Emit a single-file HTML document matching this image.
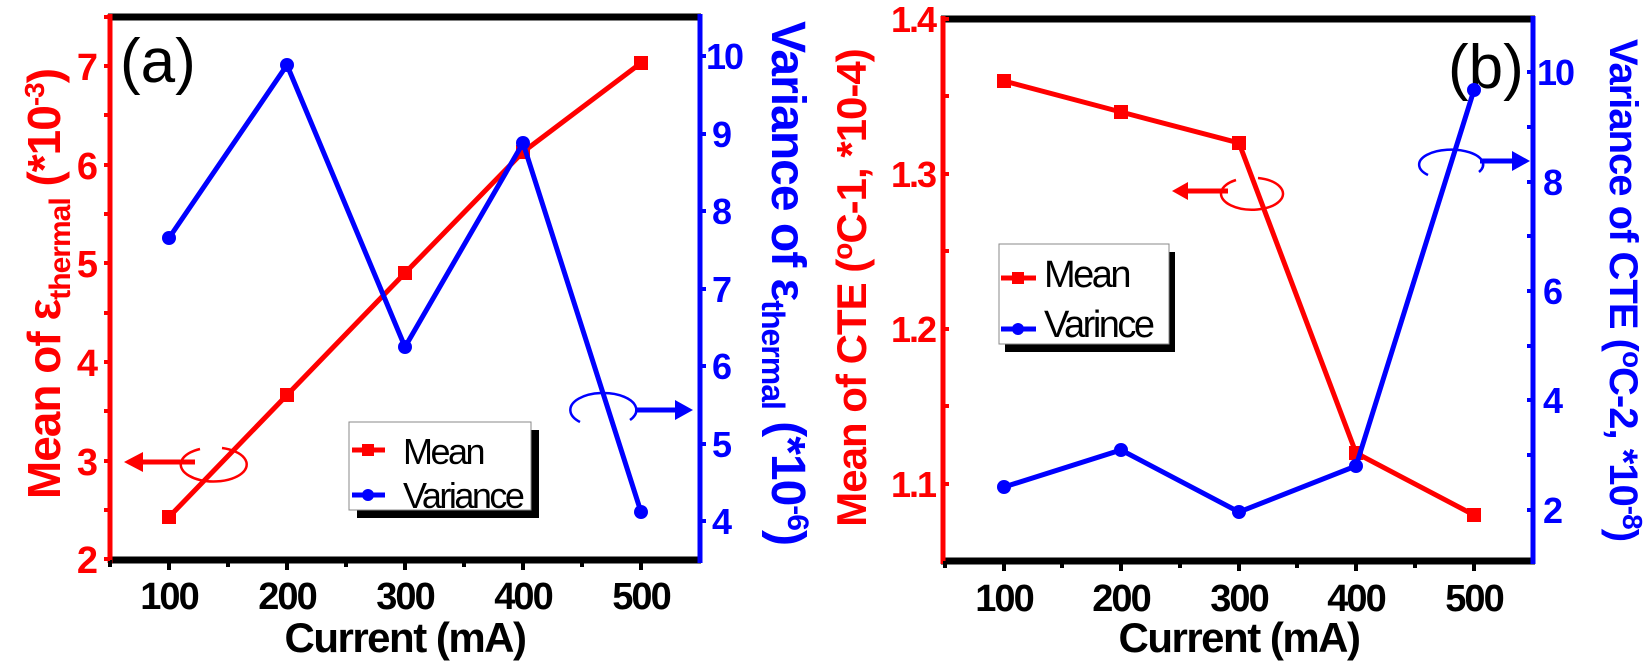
<!DOCTYPE html>
<html><head><meta charset="utf-8"><style>
html,body{margin:0;padding:0;background:#fff;}
svg{display:block;font-family:"Liberation Sans",Arial,sans-serif;}
</style></head><body>
<svg width="1650" height="666" viewBox="0 0 1650 666" xmlns="http://www.w3.org/2000/svg">
<!-- ===== Panel A ===== -->
<g>
<line x1="108" y1="17" x2="701" y2="17" stroke="#000" stroke-width="7"/>
<line x1="108" y1="560" x2="701" y2="560" stroke="#000" stroke-width="7"/>
<line x1="110" y1="14" x2="110" y2="563" stroke="#f00" stroke-width="5"/>
<line x1="700" y1="14" x2="700" y2="563" stroke="#00f" stroke-width="5"/>
<g stroke="#000" stroke-width="4">
<line x1="110" y1="560" x2="110" y2="567"/><line x1="169" y1="560" x2="169" y2="570"/>
<line x1="228" y1="560" x2="228" y2="567"/><line x1="287" y1="560" x2="287" y2="570"/>
<line x1="346" y1="560" x2="346" y2="567"/><line x1="405" y1="560" x2="405" y2="570"/>
<line x1="464" y1="560" x2="464" y2="567"/><line x1="523" y1="560" x2="523" y2="570"/>
<line x1="582" y1="560" x2="582" y2="567"/><line x1="641" y1="560" x2="641" y2="570"/>
</g>
<g font-size="38" font-weight="bold" text-anchor="middle" fill="#000" letter-spacing="-2">
<text x="169" y="609">100</text><text x="287" y="609">200</text><text x="405" y="609">300</text><text x="523" y="609">400</text><text x="641" y="609">500</text>
</g>
<text x="405" y="652" font-size="42" font-weight="bold" text-anchor="middle" letter-spacing="-1.5">Current (mA)</text>
<g stroke="#f00" stroke-width="4">
<line x1="104" y1="559" x2="110" y2="559"/><line x1="104" y1="510" x2="110" y2="510"/>
<line x1="104" y1="461" x2="110" y2="461"/><line x1="104" y1="411" x2="110" y2="411"/>
<line x1="104" y1="362" x2="110" y2="362"/><line x1="104" y1="313" x2="110" y2="313"/>
<line x1="104" y1="263" x2="110" y2="263"/><line x1="104" y1="214" x2="110" y2="214"/>
<line x1="104" y1="165" x2="110" y2="165"/><line x1="104" y1="115" x2="110" y2="115"/>
<line x1="104" y1="66" x2="110" y2="66"/><line x1="104" y1="17" x2="110" y2="17"/>
</g>
<g font-size="38" font-weight="bold" text-anchor="end" fill="#f00">
<text x="98" y="573">2</text><text x="98" y="475">3</text><text x="98" y="376">4</text><text x="98" y="277">5</text><text x="98" y="179">6</text><text x="98" y="80">7</text>
</g>
<g stroke="#00f" stroke-width="4">
<line x1="700" y1="521" x2="706" y2="521"/><line x1="700" y1="444" x2="706" y2="444"/>
<line x1="700" y1="366" x2="706" y2="366"/><line x1="700" y1="289" x2="706" y2="289"/>
<line x1="700" y1="211" x2="706" y2="211"/><line x1="700" y1="134" x2="706" y2="134"/>
<line x1="700" y1="56" x2="706" y2="56"/>
</g>
<g font-size="36" font-weight="bold" text-anchor="start" fill="#00f" letter-spacing="-2">
<text x="712" y="534">4</text><text x="712" y="457">5</text><text x="712" y="379">6</text><text x="712" y="302">7</text><text x="712" y="224">8</text><text x="712" y="147">9</text><text x="706" y="69">10</text>
</g>
<text transform="translate(60,284) rotate(-90)" font-size="46" font-weight="bold" fill="#f00" text-anchor="middle" letter-spacing="-1">Mean of ε<tspan font-size="30" dy="10">thermal</tspan><tspan dy="-10"> (*10</tspan><tspan font-size="28" dy="-16">-3</tspan><tspan dy="16">)</tspan></text>
<text transform="translate(772,283) rotate(90)" font-size="48" font-weight="bold" fill="#00f" text-anchor="middle" letter-spacing="-1">Variance of ε<tspan font-size="32" dy="10">thermal</tspan><tspan dy="-10"> (*10</tspan><tspan font-size="30" dy="-16">-6</tspan><tspan dy="16">)</tspan></text>
<text x="120" y="82" font-size="62">(a)</text>
<polyline fill="none" stroke="#f00" stroke-width="5" points="169,517 287,395 405,273 523,152 641,63"/>
<g fill="#f00"><rect x="162" y="510" width="14" height="14"/><rect x="280" y="388" width="14" height="14"/><rect x="398" y="266" width="14" height="14"/><rect x="516" y="145" width="14" height="14"/><rect x="634" y="56" width="14" height="14"/></g>
<polyline fill="none" stroke="#00f" stroke-width="5" points="169,238 287,65 405,347 523,143 641,512"/>
<g fill="#00f"><circle cx="169" cy="238" r="7"/><circle cx="287" cy="65" r="7"/><circle cx="405" cy="347" r="7"/><circle cx="523" cy="143" r="7"/><circle cx="641" cy="512" r="7"/></g>
<line x1="140" y1="462" x2="195" y2="462" stroke="#f00" stroke-width="5"/>
<polygon points="124,462 143,452 143,472" fill="#f00"/>
<path d="M200,449 A33,17 0 1 0 222,448" fill="none" stroke="#f00" stroke-width="2.5"/>
<line x1="635" y1="410" x2="678" y2="410" stroke="#00f" stroke-width="5"/>
<polygon points="693,410 675,400 675,420" fill="#00f"/>
<path d="M580,422 A33,17 0 1 1 630,420" fill="none" stroke="#00f" stroke-width="2.5"/>
<rect x="357" y="430" width="182" height="88" fill="#000"/>
<rect x="349" y="422" width="182" height="88" fill="#fff" stroke="#888" stroke-width="1"/>
<line x1="352" y1="450" x2="385" y2="450" stroke="#f00" stroke-width="5"/><rect x="362" y="444" width="12" height="12" fill="#f00"/>
<line x1="352" y1="495" x2="385" y2="495" stroke="#00f" stroke-width="5"/><circle cx="368" cy="495" r="6" fill="#00f"/>
<text x="403" y="464" font-size="36" letter-spacing="-2.5">Mean</text>
<text x="403" y="508" font-size="36" letter-spacing="-2.5">Variance</text>
</g>

<!-- ===== Panel B ===== -->
<g>
<line x1="941" y1="19" x2="1535" y2="19" stroke="#000" stroke-width="7"/>
<line x1="941" y1="561" x2="1535" y2="561" stroke="#000" stroke-width="7"/>
<line x1="943" y1="16" x2="943" y2="564" stroke="#f00" stroke-width="5"/>
<line x1="1533" y1="16" x2="1533" y2="564" stroke="#00f" stroke-width="5"/>
<g stroke="#000" stroke-width="4">
<line x1="945" y1="561" x2="945" y2="568"/><line x1="1004" y1="561" x2="1004" y2="571"/>
<line x1="1062" y1="561" x2="1062" y2="568"/><line x1="1121" y1="561" x2="1121" y2="571"/>
<line x1="1180" y1="561" x2="1180" y2="568"/><line x1="1239" y1="561" x2="1239" y2="571"/>
<line x1="1297" y1="561" x2="1297" y2="568"/><line x1="1356" y1="561" x2="1356" y2="571"/>
<line x1="1415" y1="561" x2="1415" y2="568"/><line x1="1474" y1="561" x2="1474" y2="571"/>
</g>
<g font-size="38" font-weight="bold" text-anchor="middle" letter-spacing="-2">
<text x="1004" y="611">100</text><text x="1121" y="611">200</text><text x="1239" y="611">300</text><text x="1356" y="611">400</text><text x="1474" y="611">500</text>
</g>
<text x="1239" y="652" font-size="42" font-weight="bold" text-anchor="middle" letter-spacing="-1.5">Current (mA)</text>
<g stroke="#f00" stroke-width="4">
<line x1="943" y1="19" x2="949" y2="19"/><line x1="943" y1="96" x2="949" y2="96"/>
<line x1="943" y1="174" x2="949" y2="174"/><line x1="943" y1="251" x2="949" y2="251"/>
<line x1="943" y1="329" x2="949" y2="329"/><line x1="943" y1="406" x2="949" y2="406"/>
<line x1="943" y1="484" x2="949" y2="484"/>
</g>
<g font-size="36" font-weight="bold" text-anchor="end" fill="#f00" letter-spacing="-2">
<text x="935" y="32">1.4</text><text x="935" y="187">1.3</text><text x="935" y="342">1.2</text><text x="935" y="497">1.1</text>
</g>
<g stroke="#00f" stroke-width="4">
<line x1="1527" y1="510" x2="1533" y2="510"/><line x1="1527" y1="455" x2="1533" y2="455"/>
<line x1="1527" y1="400" x2="1533" y2="400"/><line x1="1527" y1="346" x2="1533" y2="346"/>
<line x1="1527" y1="291" x2="1533" y2="291"/><line x1="1527" y1="236" x2="1533" y2="236"/>
<line x1="1527" y1="182" x2="1533" y2="182"/><line x1="1527" y1="127" x2="1533" y2="127"/>
<line x1="1527" y1="72" x2="1533" y2="72"/>
</g>
<g font-size="36" font-weight="bold" text-anchor="start" fill="#00f" letter-spacing="-2">
<text x="1543" y="523">2</text><text x="1543" y="413">4</text><text x="1543" y="304">6</text><text x="1543" y="195">8</text><text x="1537" y="85">10</text>
</g>
<text transform="translate(866,288) rotate(-90)" font-size="42" font-weight="bold" fill="#f00" text-anchor="middle" letter-spacing="-1">Mean of CTE (<tspan font-size="28" dy="-14">o</tspan><tspan dy="14">C-1, *10-4)</tspan></text>
<text transform="translate(1610,290) rotate(90)" font-size="40" font-weight="bold" fill="#00f" text-anchor="middle" letter-spacing="-1">Variance of CTE (<tspan font-size="28" dy="-13">o</tspan><tspan dy="13">C-2, *10</tspan><tspan font-size="28" dy="-13">-8</tspan><tspan dy="13">)</tspan></text>
<text x="1448" y="88" font-size="62">(b)</text>
<polyline fill="none" stroke="#f00" stroke-width="5" points="1004,81 1121,112 1239,143 1356,453 1474,515"/>
<g fill="#f00"><rect x="997" y="74" width="14" height="14"/><rect x="1114" y="105" width="14" height="14"/><rect x="1232" y="136" width="14" height="14"/><rect x="1349" y="446" width="14" height="14"/><rect x="1467" y="508" width="14" height="14"/></g>
<polyline fill="none" stroke="#00f" stroke-width="5" points="1004,487 1121,450 1239,512 1356,466 1474,90"/>
<g fill="#00f"><circle cx="1004" cy="487" r="7"/><circle cx="1121" cy="450" r="7"/><circle cx="1239" cy="512" r="7"/><circle cx="1356" cy="466" r="7"/><circle cx="1474" cy="90" r="7"/></g>
<line x1="1185" y1="191" x2="1228" y2="191" stroke="#f00" stroke-width="5"/>
<polygon points="1172,191 1188,182 1188,200" fill="#f00"/>
<path d="M1236,180 A31,16 0 1 0 1258,178" fill="none" stroke="#f00" stroke-width="2.5"/>
<line x1="1480" y1="161" x2="1515" y2="161" stroke="#00f" stroke-width="5"/>
<polygon points="1530,161 1512,151 1512,171" fill="#00f"/>
<path d="M1428,175 A32,15 0 1 1 1479,172" fill="none" stroke="#00f" stroke-width="2.5"/>
<rect x="1005" y="252" width="170" height="100" fill="#000"/>
<rect x="999" y="244" width="170" height="100" fill="#fff" stroke="#888" stroke-width="1"/>
<line x1="1001" y1="278" x2="1036" y2="278" stroke="#f00" stroke-width="5"/><rect x="1012" y="272" width="12" height="12" fill="#f00"/>
<line x1="1001" y1="329" x2="1036" y2="329" stroke="#00f" stroke-width="5"/><circle cx="1018" cy="329" r="6" fill="#00f"/>
<text x="1044" y="287" font-size="38" letter-spacing="-2.5">Mean</text>
<text x="1044" y="337" font-size="38" letter-spacing="-2.5">Varince</text>
</g>
</svg>
</body></html>
